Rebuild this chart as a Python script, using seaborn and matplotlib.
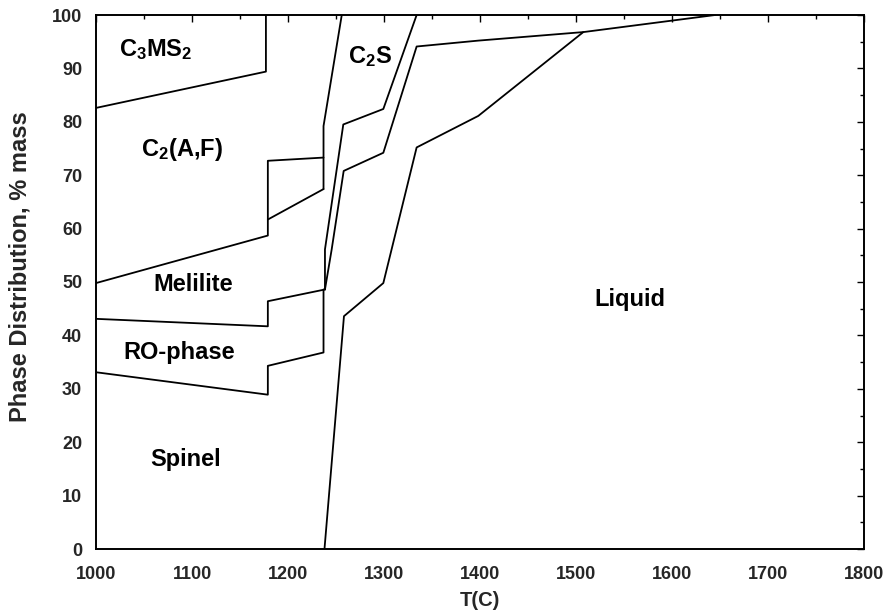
import numpy as np
import pandas as pd
import matplotlib
matplotlib.use("Agg")
import matplotlib.pyplot as plt
import seaborn as sns
from matplotlib.ticker import MultipleLocator

# ---- boundary curves between phase fields (T in C, cumulative % mass) ----
spinel_top_T = [1000, 1179, 1179, 1237, 1237]
spinel_top_y = [33.1, 28.9, 34.3, 36.8, 48.6]
ro_top_T = [1000, 1179, 1179, 1238.5]
ro_top_y = [43.1, 41.7, 46.4, 48.6]
melilite_top_T = [1000, 1179, 1179, 1237]
melilite_top_y = [49.8, 58.7, 61.7, 67.4]
step_T = [1179, 1179, 1237]
step_y = [61.7, 72.7, 73.3]
c2af_edge_T = [1237, 1237, 1256]
c2af_edge_y = [67.4, 79.2, 100]
c3ms2_low_T = [1000, 1177, 1177]
c3ms2_low_y = [82.6, 89.4, 100]
c2s_low_T = [1238.5, 1238.5, 1257.6, 1299.3, 1334]
c2s_low_y = [48.6, 56.1, 79.5, 82.4, 100]
c2s_side_T = [1238.5, 1245.5, 1258, 1299.3, 1334, 1398, 1507.6, 1645]
c2s_side_y = [48.6, 56.1, 70.8, 74.2, 94.1, 95.2, 96.8, 100]
liquid_T = [1238, 1258.3, 1299.3, 1334, 1398.2, 1507.6]
liquid_y = [0, 43.6, 49.8, 75.2, 81.1, 96.8]

# ---- phase-field labels ----
label_text = [r"$\mathbf{C_3MS_2}$", r"$\mathbf{C_2S}$", r"$\mathbf{C_2(A{,}F)}$",
              "Melilite", "RO-phase", "Spinel", "Liquid"]
label_T = [1062, 1285, 1090, 1101, 1087, 1093, 1556]
label_y = [93.6, 92.3, 74.9, 49.5, 36.8, 16.7, 46.7]

x_ticks = [1000, 1100, 1200, 1300, 1400, 1500, 1600, 1700, 1800]
y_ticks = [0, 10, 20, 30, 40, 50, 60, 70, 80, 90, 100]

curves = {
    "spinel_top": (spinel_top_T, spinel_top_y),
    "ro_top": (ro_top_T, ro_top_y),
    "melilite_top": (melilite_top_T, melilite_top_y),
    "step": (step_T, step_y),
    "c2af_edge": (c2af_edge_T, c2af_edge_y),
    "c3ms2_low": (c3ms2_low_T, c3ms2_low_y),
    "c2s_low": (c2s_low_T, c2s_low_y),
    "c2s_side": (c2s_side_T, c2s_side_y),
    "liquid": (liquid_T, liquid_y),
}
rows = []
for name, (ts, ys) in curves.items():
    for i, (t, y) in enumerate(zip(ts, ys)):
        rows.append({"curve": name, "order": i, "T": t, "y": y})
df = pd.DataFrame(rows)

sns.set_theme(style="white")
plt.rcParams["font.family"] = ["Liberation Sans", "DejaVu Sans"]
plt.rcParams["mathtext.fontset"] = "custom"
plt.rcParams["mathtext.bf"] = "Liberation Sans:bold"
plt.rcParams["mathtext.rm"] = "Liberation Sans"

fig = plt.figure(figsize=(8.88, 6.13), dpi=100)
ax = fig.add_axes([96/888, 1-549/613, (864-96)/888, (549-15)/613])

for name in curves:
    sub = df[df["curve"] == name]
    sns.lineplot(data=sub, x="T", y="y", sort=False, estimator=None,
                 color="black", linewidth=1.3, ax=ax, legend=False)

for txt, t, y in zip(label_text, label_T, label_y):
    ax.text(t, y, txt, ha="center", va="center", fontsize=17,
            fontweight="bold", color="black")

ax.set_xlim(1000, 1800)
ax.set_ylim(0, 100)
ax.set_xticks(x_ticks)
ax.set_yticks(y_ticks)
ax.xaxis.set_minor_locator(MultipleLocator(50))
ax.yaxis.set_minor_locator(MultipleLocator(5))
ax.tick_params(which="both", direction="in", top=True, right=True,
               color="black", width=1.0)
ax.tick_params(which="major", length=5, labelsize=13, pad=10)
ax.tick_params(axis="x", which="major", pad=12)
ax.tick_params(which="minor", length=3)
for lab in ax.get_xticklabels() + ax.get_yticklabels():
    lab.set_fontweight("bold")
ax.set_xlabel("T(C)", fontsize=14.5, fontweight="bold", labelpad=6)
ax.set_ylabel("Phase Distribution, % mass", fontsize=17, fontweight="bold")
ax.yaxis.set_label_coords(-0.084, 0.528)
for sp in ax.spines.values():
    sp.set_color("black")
    sp.set_linewidth(1.4)
ax.grid(False)

fig.savefig("out.png", dpi=100)
